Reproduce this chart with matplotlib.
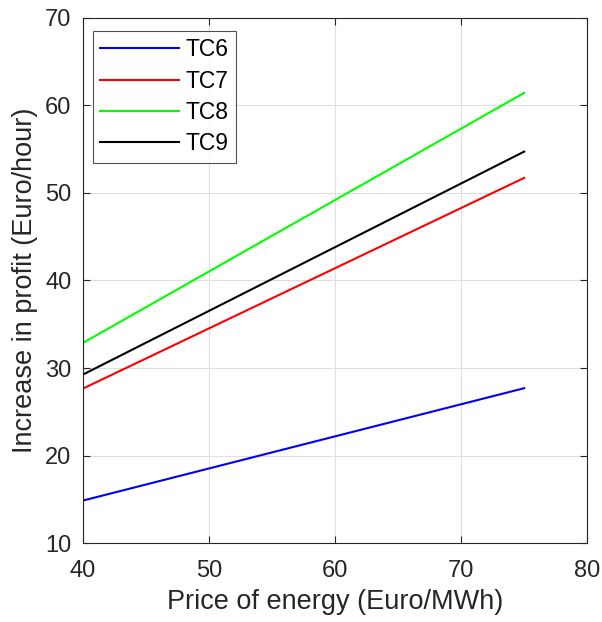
import matplotlib
matplotlib.use("Agg")
import matplotlib.pyplot as plt

plt.rcParams['font.family'] = ['Liberation Sans', 'DejaVu Sans']

price = [40, 75]
tc6 = [14.87, 27.7]
tc7 = [27.64, 51.7]
tc8 = [32.85, 61.4]
tc9 = [29.24, 54.7]
series = [("TC6", tc6, "#0000ff"), ("TC7", tc7, "#ff0000"),
          ("TC8", tc8, "#00ff00"), ("TC9", tc9, "#000000")]
xticks = [40, 50, 60, 70, 80]
yticks = [10, 20, 30, 40, 50, 60, 70]

W, H = 602, 622
L, R, T, B = 82.7, 587.3, 17.5, 543.3
fig = plt.figure(figsize=(W/100, H/100), dpi=100)
ax = fig.add_axes([L/W, 1-B/H, (R-L)/W, (B-T)/H])

for name, vals, col in series:
    ax.plot(price, vals, color=col, lw=1.5, label=name)

ax.set_xlim(40, 80)
ax.set_ylim(10, 70)
ax.set_xticks(xticks)
ax.set_yticks(yticks)
ax.grid(True, color='#dfdfdf', lw=0.8)
ax.set_axisbelow(True)
dark = '#262626'
for s in ax.spines.values():
    s.set_color(dark)
    s.set_linewidth(0.8)
ax.tick_params(direction='in', length=5, width=0.8, colors=dark, labelsize=17,
               top=True, right=True)
ax.tick_params(axis='x', pad=12)
ax.tick_params(axis='y', pad=8)
ax.set_xlabel("Price of energy (Euro/MWh)", fontsize=19.5, color=dark, labelpad=5)
ax.set_ylabel("Increase in profit (Euro/hour)", fontsize=19.5, color=dark, labelpad=5)

leg = ax.legend(loc='upper left', bbox_to_anchor=(10/(R-L), 1-13/(B-T)), fontsize=16.5,
                frameon=True, fancybox=False, edgecolor=dark, handlelength=3.45,
                borderpad=0.33, labelspacing=0.37, handletextpad=0.26, borderaxespad=0)
leg.get_frame().set_linewidth(0.8)

fig.savefig("out.png", dpi=100)
